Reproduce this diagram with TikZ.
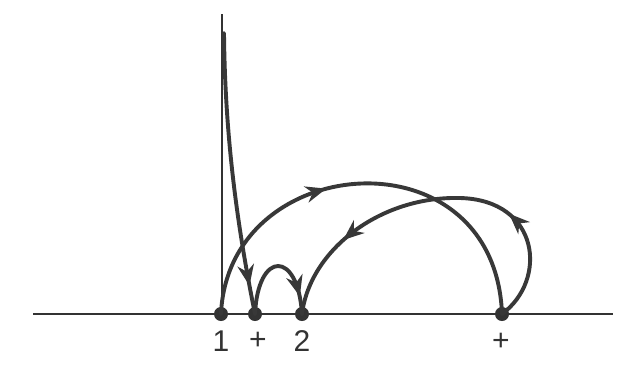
\documentclass[tikz,border=0pt]{standalone}
\usepackage{fontspec}
\setmainfont{Liberation Sans}
\usetikzlibrary{arrows.meta,decorations.markings}
\begin{document}
\begin{tikzpicture}[x=1pt,y=-1pt,
  curve/.style={line width=3.9pt, draw=black!78, line cap=round},
  dotnode/.style={circle, fill=black!80, minimum size=14pt, inner sep=0pt},
  lbl/.style={font=\fontsize{30}{34}\selectfont, text=black!80, inner sep=0pt},
  arr/.style={postaction={decorate, decoration={markings, mark=at position #1 with {\fill[black!78] (5pt,0pt) -- (-16pt,8.5pt) -- (-9pt,0pt) -- (-16pt,-8.5pt) -- cycle;}}}}
]
\useasboundingbox (0,0) rectangle (624,381);
\fill[white] (0,0) rectangle (624,381);
% axes
\coordinate (axL) at (33,314);
\coordinate (axR) at (613,314);
\draw[line width=1.9pt, black!80] (axL) -- (axR);
\coordinate (vt) at (222,14);
\coordinate (vb) at (222,314);
\draw[line width=2.3pt, black!80] (vt) -- (vb);
% points
\node[dotnode] (p1) at (221,314) {};
\node[dotnode] (pa) at (255,314) {};
\node[dotnode] (p2) at (302,314) {};
\node[dotnode] (pb) at (502,314) {};
% labels
\node[lbl] (t1) at (221,341) {1};
\node[lbl] (ta) at (258,341) {+};
\node[lbl] (t2) at (302,341) {2};
\node[lbl] (tb) at (501,342) {+};
% curves
\coordinate (top) at (224,33);
\draw[curve, arr=0.88] (top) .. controls (225,140) and (238,230) .. (pa.center);
\draw[curve, arr=0.8] (pa.center) .. controls (258,250) and (298,250) .. (p2.center);
\draw[curve, arr=0.4] (p1.center) .. controls (228,150) and (495,130) .. (pb.center);
\draw[curve, arr=0.29, arr=0.76] (pb.center) .. controls (548,280) and (540,200) .. (460,198) .. controls (380,196) and (310,250) .. (p2.center);
\end{tikzpicture}
\end{document}
